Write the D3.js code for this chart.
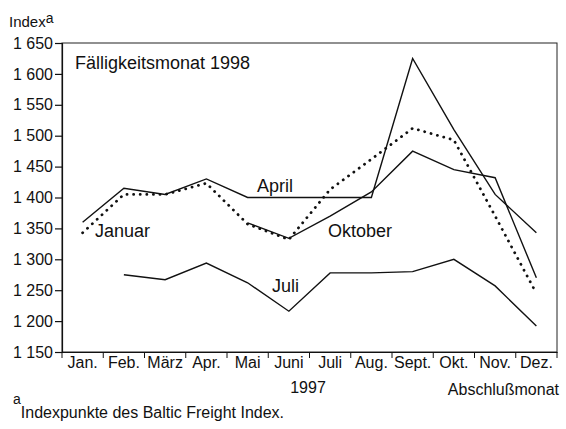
<!DOCTYPE html>
<html>
<head>
<meta charset="utf-8">
<script src="https://cdn.jsdelivr.net/npm/d3@7"></script>
<style>
  body { margin: 0; background: #fff; }
  svg { font-family: "Liberation Sans", Arial, sans-serif; }
</style>
</head>
<body>
<svg id="chart"></svg>
<script>
// Abschlussmonat 1997 (x) / Faelligkeitsmonat 1998 (Serien)
var months = ["Jan.", "Feb.", "März", "Apr.", "Mai", "Juni", "Juli", "Aug.", "Sept.", "Okt.", "Nov.", "Dez."];
var januar  = [1343, 1405, 1405, 1423, 1357, 1332, 1413, 1462, 1512, 1493, 1370, 1245];
var april   = [1360, 1415, 1405, 1430, 1400, 1400, 1400, 1400, 1625, 1510, 1405, 1343];
var juli    = [null, 1275, 1267, 1294, 1262, 1216, 1278, 1278, 1280, 1300, 1257, 1192];
var oktober = [null, null, null, null, 1359, 1334, 1370, 1409, 1475, 1445, 1432, 1270];
var yTicks  = [1150, 1200, 1250, 1300, 1350, 1400, 1450, 1500, 1550, 1600, 1650];

var width = 566, height = 429;
var plotLeft = 62, plotRight = 557, plotTop = 43, plotBottom = 352;

var svg = d3.select("#chart")
            .attr("width", width)
            .attr("height", height);

var x = d3.scaleBand().domain(months).range([plotLeft, plotRight]).padding(0);
var y = d3.scaleLinear().domain([1150, 1650]).range([plotBottom, plotTop]);
var fmt = d3.formatLocale({decimal: ",", thousands: " ", grouping: [3], currency: ["", ""]}).format(",");

// frame
svg.append("rect")
   .attr("x", plotLeft).attr("y", plotTop)
   .attr("width", plotRight - plotLeft).attr("height", plotBottom - plotTop)
   .attr("fill", "none").attr("stroke", "#222").attr("stroke-width", 1);

// y axis
var yAxis = svg.append("g")
   .attr("transform", "translate(" + plotLeft + ",0)")
   .call(d3.axisLeft(y).tickValues(yTicks).tickFormat(fmt).tickSize(7).tickPadding(2));
yAxis.selectAll("text").attr("font-size", 16).attr("fill", "#111").attr("font-family", "Liberation Sans, Arial, sans-serif");
yAxis.selectAll("line,path").attr("stroke", "#111").attr("stroke-width", 1.2);

// x axis: labels centred in month bands, ticks on band boundaries
var xAxis = svg.append("g")
   .attr("transform", "translate(0," + plotBottom + ")")
   .call(d3.axisBottom(x).tickSizeInner(0).tickSizeOuter(0).tickPadding(5));
xAxis.selectAll("text").attr("font-size", 16).attr("fill", "#111").attr("font-family", "Liberation Sans, Arial, sans-serif");
xAxis.select("path").attr("stroke", "#111").attr("stroke-width", 1.2);

var bounds = months.map(function(m) { return x(m); }).concat([x.range()[1]]);
svg.selectAll("line.xtick")
   .data(bounds)
   .enter()
   .append("line")
   .attr("class", "xtick")
   .attr("x1", function(d) { return d; })
   .attr("x2", function(d) { return d; })
   .attr("y1", plotBottom)
   .attr("y2", plotBottom + 6)
   .attr("stroke", "#111");

// series
var line = d3.line()
   .defined(function(d) { return d != null; })
   .x(function(d, i) { return x(months[i]) + x.bandwidth() / 2; })
   .y(function(d) { return y(d); });

var series = [
  {name: "Januar", values: januar, dotted: true},
  {name: "April", values: april, dotted: false},
  {name: "Juli", values: juli, dotted: false},
  {name: "Oktober", values: oktober, dotted: false}
];

svg.selectAll("path.series")
   .data(series)
   .enter()
   .append("path")
   .attr("class", "series")
   .attr("d", function(d) { return line(d.values); })
   .attr("fill", "none")
   .attr("stroke", "#111")
   .attr("stroke-width", function(d) { return d.dotted ? 2.8 : 1.4; })
   .attr("stroke-linecap", function(d) { return d.dotted ? "round" : "butt"; })
   .attr("stroke-dasharray", function(d) { return d.dotted ? "0.1 6.5" : null; });

// labels in the plot
var labels = [
  {text: "Fälligkeitsmonat 1998", x: 75, y: 69},
  {text: "April", x: 257, y: 192},
  {text: "Januar", x: 95, y: 237},
  {text: "Oktober", x: 328, y: 237},
  {text: "Juli", x: 272, y: 292}
];
svg.selectAll("text.lbl")
   .data(labels)
   .enter()
   .append("text")
   .attr("class", "lbl")
   .attr("x", function(d) { return d.x; })
   .attr("y", function(d) { return d.y; })
   .attr("font-size", 18)
   .attr("fill", "#111")
   .text(function(d) { return d.text; });

// axis titles
var yt = svg.append("text").attr("x", 9).attr("y", 27).attr("font-size", 15).attr("fill", "#111");
yt.append("tspan").text("Index");
yt.append("tspan").attr("font-size", 14).attr("dy", -4).text("a");

svg.append("text").attr("x", 308).attr("y", 393).attr("text-anchor", "middle")
   .attr("font-size", 16).attr("fill", "#111").text("1997");
svg.append("text").attr("x", 559).attr("y", 395).attr("text-anchor", "end")
   .attr("font-size", 16).attr("fill", "#111").text("Abschlußmonat");

// footnote
var fn = svg.append("text").attr("x", 13).attr("y", 418).attr("font-size", 16).attr("fill", "#111");
fn.append("tspan").attr("font-size", 14).attr("dy", -14).text("a");
fn.append("tspan").attr("dy", 14).text("Indexpunkte des Baltic Freight Index.");
</script>
</body>
</html>
